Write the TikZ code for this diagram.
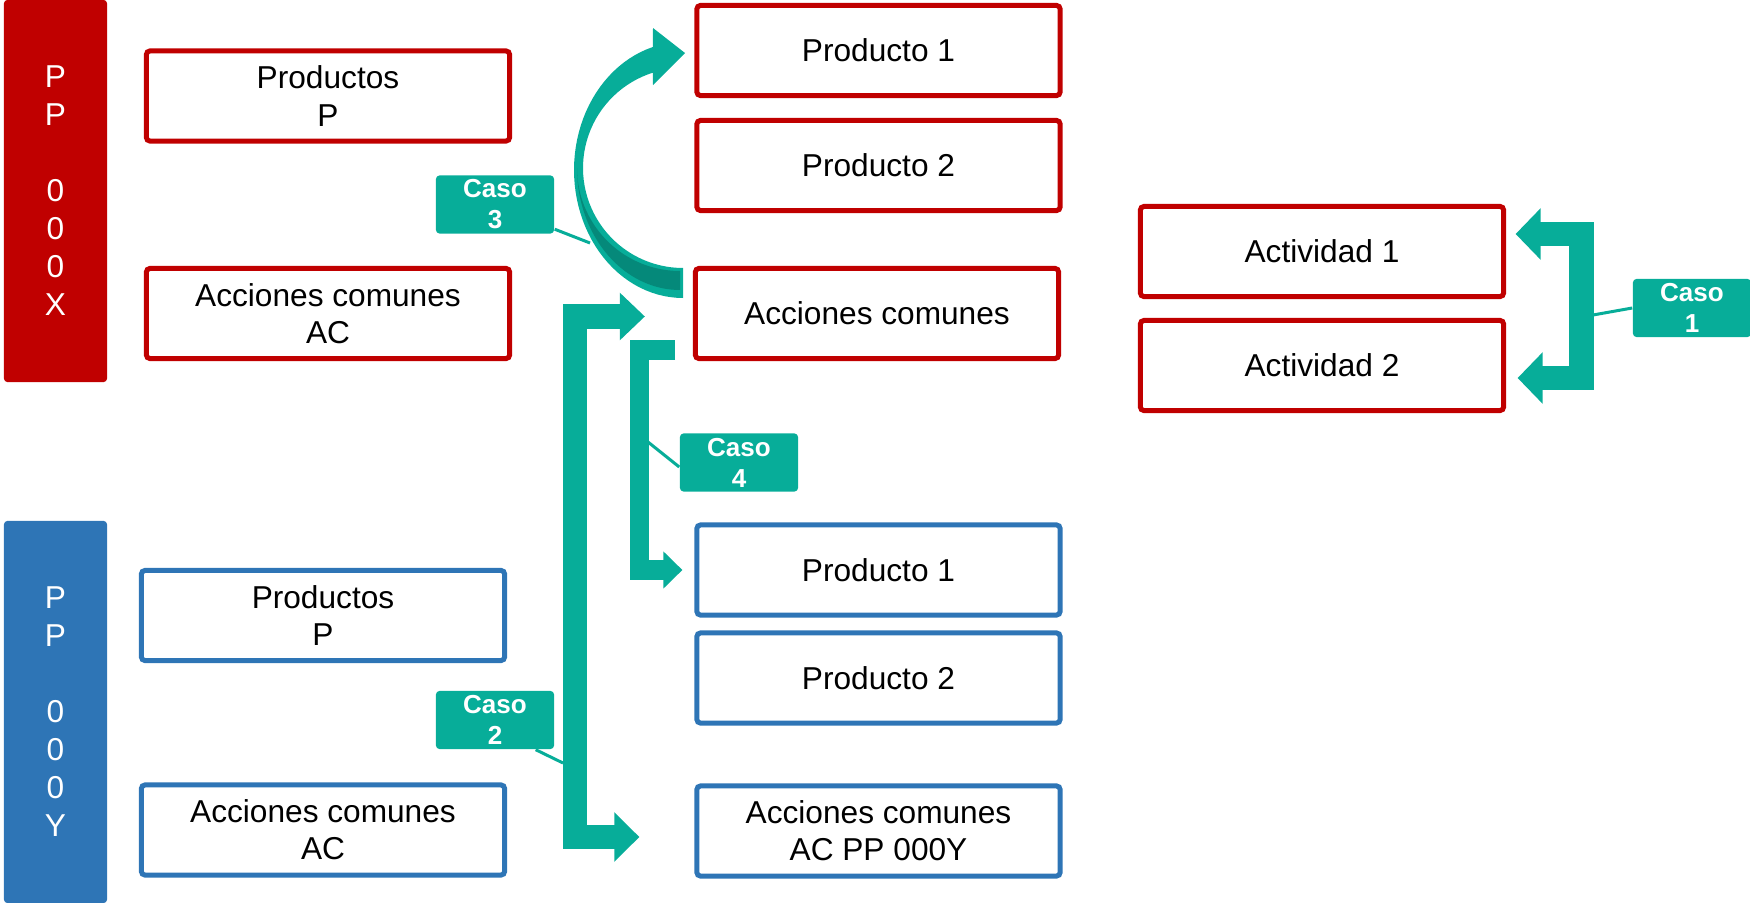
\documentclass[tikz,border=0pt]{standalone}
\usepackage{fontspec}
\setmainfont{Liberation Sans}
\usetikzlibrary{arrows.meta}

\definecolor{xred}{RGB}{192,0,0}
\definecolor{yblue}{RGB}{46,117,182}
\definecolor{casoteal}{RGB}{7,173,153}
\definecolor{casodark}{RGB}{5,137,122}

\tikzset{
  sidebar/.style={fill=#1, rounded corners=1pt, minimum width=1.03cm, minimum height=3.82cm, text=white, align=center, font=\fontsize{9}{10.8}\selectfont},
  pbox/.style={draw=#1, fill=white, line width=0.05cm, rounded corners=1pt, minimum width=3.63cm, minimum height=0.9cm, align=center, font=\fontsize{9}{10.6}\selectfont},
  casolabel/.style={fill=casoteal, rounded corners=1pt, minimum width=1.18cm, minimum height=0.58cm, inner sep=0pt, text=white, align=center, font=\bfseries\fontsize{7.4}{8.8}\selectfont},
  blockarrow/.style={draw=casoteal, line width=#1, line join=miter},
  casoline/.style={draw=casoteal, line width=0.03cm},
}

\begin{document}
\begin{tikzpicture}[x=0.01cm, y=-0.01cm]
    \useasboundingbox (0,0) rectangle (1750,903);
    \node[sidebar=xred] (ppx) at (55.5,191) {P\\P\\[10.8pt]0\\0\\0\\X};
    \node[sidebar=yblue] (ppy) at (55.5,712) {P\\P\\[10.8pt]0\\0\\0\\Y};
    \node[pbox=xred] (xprod) at (328,96) {Productos\\P};
    \node[pbox=xred] (xac) at (328,313.5) {Acciones comunes\\AC};
    \node[pbox=yblue] (yprod) at (323,615.5) {Productos\\P};
    \node[pbox=yblue] (yac) at (323,830) {Acciones comunes\\AC};
    \node[pbox=xred] (mx1) at (878.5,50.5) {Producto 1};
    \node[pbox=xred] (mx2) at (878.5,165.5) {Producto 2};
    \node[pbox=xred] (mxac) at (877,313.5) {Acciones comunes};
    \node[pbox=yblue] (my1) at (878.5,570) {Producto 1};
    \node[pbox=yblue] (my2) at (878.5,678) {Producto 2};
    \node[pbox=yblue] (myac) at (878.5,831) {Acciones comunes\\AC PP 000Y};
    \node[pbox=xred] (act1) at (1322,251.5) {Actividad 1};
    \node[pbox=xred] (act2) at (1322,365.5) {Actividad 2};

    % caso 3
    \fill[casoteal] plot[domain=90:254, samples=50, variable=\t] ({683+109*cos(\t)},{170+128*sin(\t)})
      -- (653,28) -- (685,53) -- (653,85)
      -- plot[domain=252.5:90, samples=50, variable=\t] ({683+100*cos(\t)},{168+100*sin(\t)}) -- cycle;
    \fill[casodark] plot[domain=90:180, samples=40, variable=\t] ({680+103*cos(\t)},{168+103*sin(\t)})
      -- plot[domain=180:90, samples=40, variable=\t] ({680+103*cos(\t)},{168+122*sin(\t)}) -- cycle;
    \coordinate (a3) at (590,243);
    % caso 2
    \draw[blockarrow=0.24cm, {Triangle[length=0.25cm,width=0.46cm]}-{Triangle[length=0.25cm,width=0.48cm]}]
      ([xshift=-0.48cm,yshift=-0.03cm]mxac.west) -| (575,600) |- ([xshift=-0.55cm,yshift=-0.06cm]myac.west);
    \coordinate (a2) at (563,763);
    % caso 4
    \draw[blockarrow=0.19cm, -{Triangle[length=0.19cm,width=0.36cm]}]
      (675,350) -- (639.5,350) |- ([xshift=-0.12cm]my1.west);
    \coordinate (a4) at (648,442);
    % caso 1
    \draw[blockarrow=0.24cm, {Triangle[length=0.25cm,width=0.5cm]}-{Triangle[length=0.25cm,width=0.5cm]}]
      ([xshift=0.095cm,yshift=0.175cm]act1.east) -| (1581.5,300) |- ([xshift=0.115cm,yshift=-0.125cm]act2.east);
    \coordinate (a1) at (1593,315);

    \node[casolabel] (c3) at (495,204.5) {Caso\\3};
    \node[casolabel] (c2) at (495,720) {Caso\\2};
    \node[casolabel] (c4) at (739,462.5) {Caso\\4};
    \node[casolabel] (c1) at (1692,308) {Caso\\1};
    \draw[casoline] ([yshift=0.05cm]c3.south east) -- (a3);
    \draw[casoline] ([xshift=-0.19cm]c2.south east) -- (a2);
    \draw[casoline] ([yshift=-0.045cm]c4.west) -- (a4);
    \draw[casoline] (c1.west) -- (a1);
\end{tikzpicture}
\end{document}
